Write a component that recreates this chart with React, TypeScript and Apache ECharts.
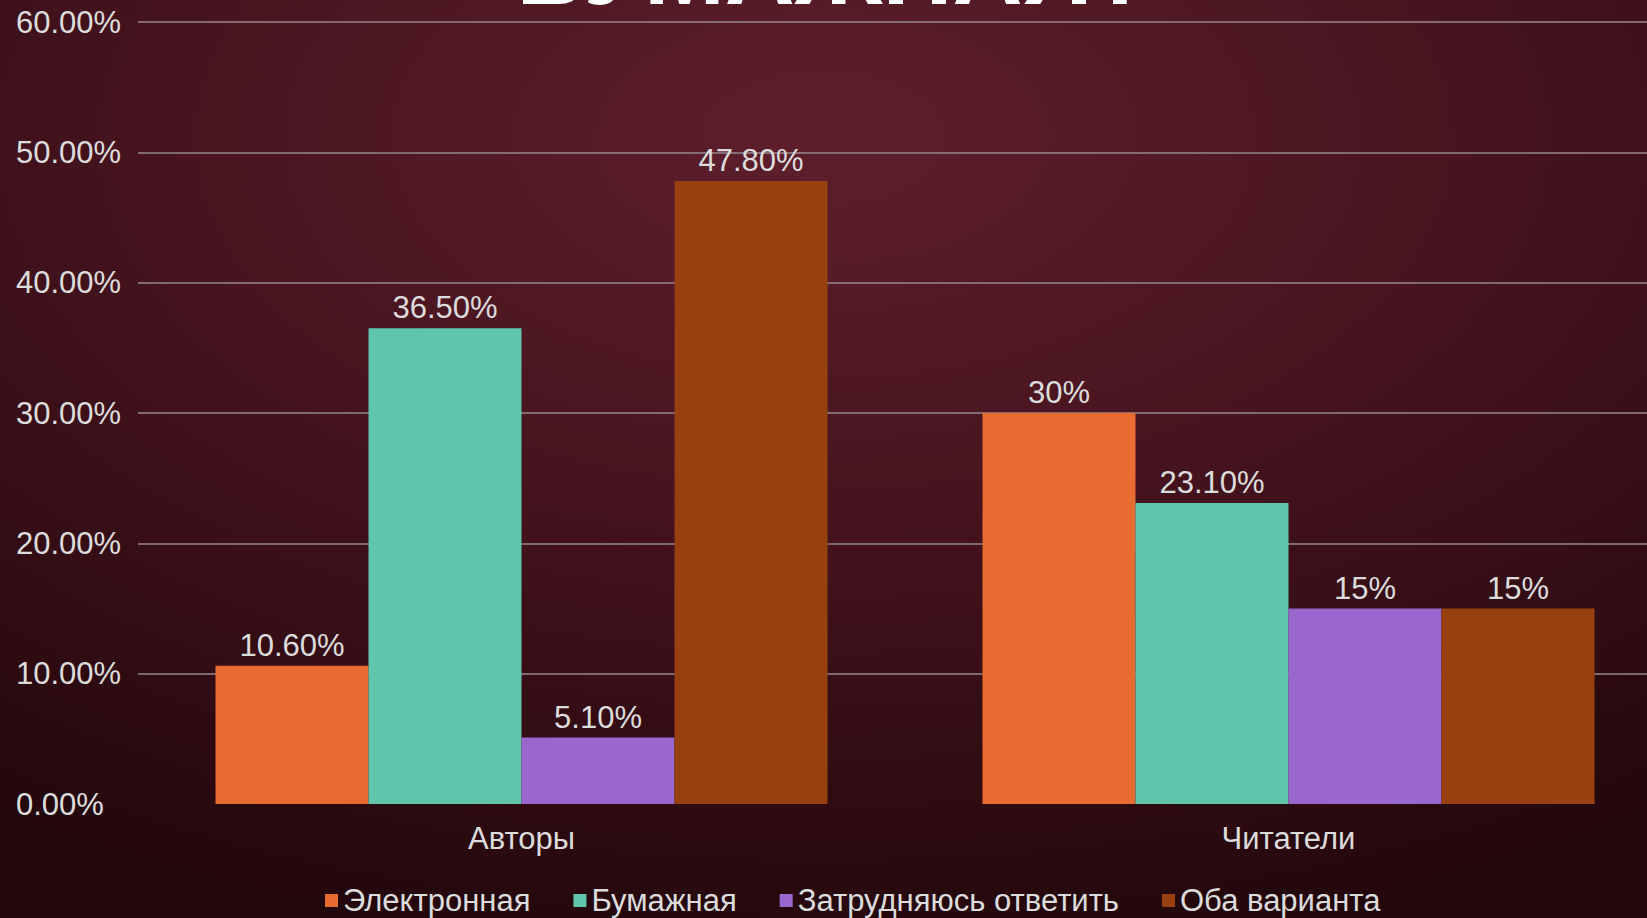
import React, { useEffect, useRef } from "react";
import * as echarts from "echarts";

const categories = ["Авторы", "Читатели"];
const seriesNames = ["Электронная", "Бумажная", "Затрудняюсь ответить", "Оба варианта"];
const electronic = [10.6, 30];
const paper = [36.5, 23.1];
const unsure = [5.1, 15];
const both = [47.8, 15];
const electronicLabels = ["10.60%", "30%"];
const paperLabels = ["36.50%", "23.10%"];
const unsureLabels = ["5.10%", "15%"];
const bothLabels = ["47.80%", "15%"];
const seriesColors = ["#E86B30", "#5FC5AD", "#9A67CE", "#98400F"];
const titleText = "БУМАЖНАЯ?";

const FONT = '"Liberation Sans", Arial, sans-serif';
const TEXT = "#dcdcdc";
const FS = 31;

export default function App() {
  const ref = useRef<HTMLDivElement>(null);
  useEffect(() => {
    if (!ref.current) return;
    const chart = echarts.init(ref.current, null, { renderer: "svg" });
    const values = [electronic, paper, unsure, both];
    const labels = [electronicLabels, paperLabels, unsureLabels, bothLabels];
    const gridLine = "rgba(150,135,140,0.75)";
    chart.setOption({
      animation: false,
      backgroundColor: {
        type: "radial",
        x: 0.5,
        y: 0.15,
        r: 0.9,
        colorStops: [
          { offset: 0, color: "#5e1f2b" },
          { offset: 0.45, color: "#46141e" },
          { offset: 1, color: "#22070b" },
        ],
      },
      textStyle: { fontFamily: FONT },
      graphic: [
        {
          type: "text",
          x: 834,
          y: -30,
          style: {
            text: titleText,
            fill: "#ffffff",
            font: `bold 97px ${FONT}`,
            textAlign: "center",
            textVerticalAlign: "middle",
          },
        },
      ],
      grid: {
        left: 138,
        top: 22,
        width: 1534,
        height: 782,
        outerBoundsMode: "none",
        containLabel: false,
      },
      legend: {
        data: seriesNames,
        left: 325,
        top: 885,
        padding: 0,
        itemWidth: 13,
        itemHeight: 13,
        itemGap: 43,
        icon: "rect",
        textStyle: { color: TEXT, fontSize: FS, fontFamily: FONT },
      },
      xAxis: {
        type: "category",
        data: categories,
        axisLine: { show: false },
        axisTick: { show: false },
        axisLabel: { color: TEXT, fontSize: FS, margin: 19, fontFamily: FONT },
      },
      yAxis: {
        type: "value",
        min: 0,
        max: 60,
        interval: 10,
        axisLine: { show: false },
        axisTick: { show: false },
        axisLabel: {
          color: TEXT,
          fontSize: FS,
          align: "left",
          margin: 122,
          fontFamily: FONT,
          formatter: (v: number) => v.toFixed(2) + "%",
        },
        splitLine: {
          lineStyle: {
            color: ["transparent", gridLine, gridLine, gridLine, gridLine, gridLine, gridLine],
            width: 2,
          },
        },
      },
      series: seriesNames.map((name, i) => ({
        name,
        type: "bar",
        data: values[i],
        barWidth: 153,
        barGap: "0%",
        itemStyle: { color: seriesColors[i] },
        label: {
          show: true,
          position: "top",
          distance: 5,
          color: TEXT,
          fontSize: FS,
          fontFamily: FONT,
          formatter: (p: any) => labels[i][p.dataIndex],
        },
      })),
    });
    return () => chart.dispose();
  }, []);
  return (
    <div
      ref={ref}
      style={{ position: "absolute", left: 0, top: 0, width: 1647, height: 918 }}
    />
  );
}
